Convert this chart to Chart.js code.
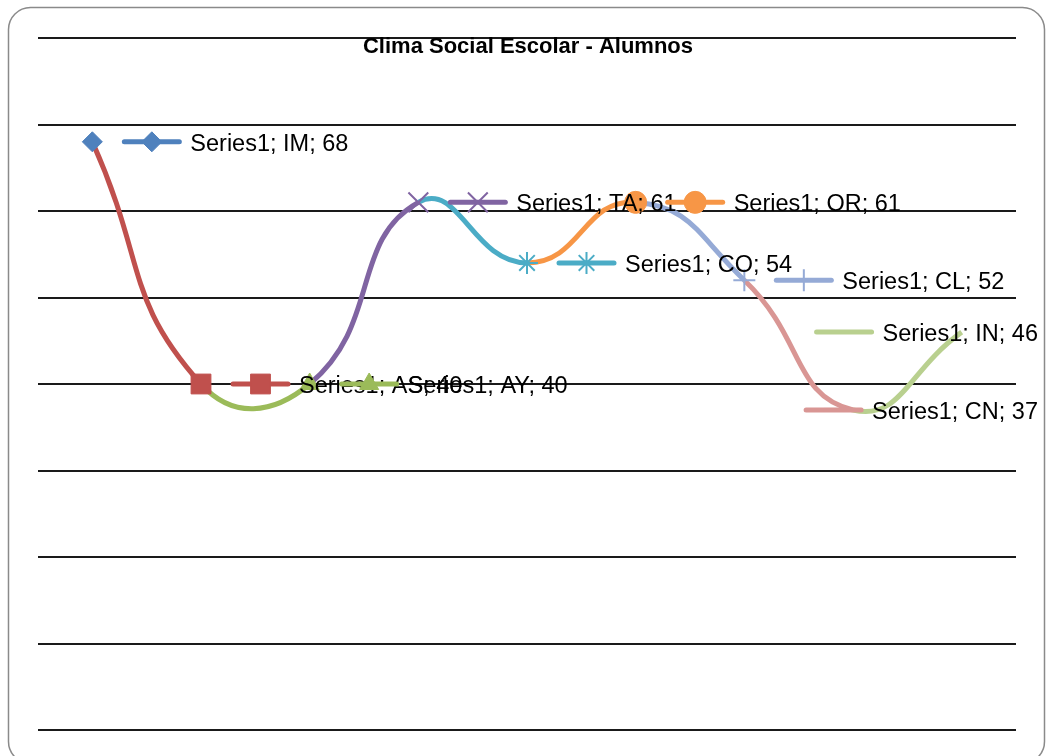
<!DOCTYPE html>
<html>
<head>
<meta charset="utf-8">
<script src="https://cdn.jsdelivr.net/npm/chart.js@4.4.1/dist/chart.umd.min.js"></script>
<style>
html,body{margin:0;padding:0;background:#fff;}
#wrap{width:1046px;height:756px;position:relative;}
</style>
</head>
<body>
<div id="wrap"><canvas id="c" width="1046" height="756"></canvas></div>
<script>
const chartTitle = 'Clima Social Escolar - Alumnos';
const seriesName = 'Series1';
const categories = ['IM','AS','AY','TA','CO','OR','CL','CN','IN'];
const values = [68, 40, 40, 61, 54, 61, 52, 37, 46];
const yTicks = [0, 10, 20, 30, 40, 50, 60, 70, 80];
const colors = ['#4F81BD','#C0504D','#9BBB59','#8064A2','#4BACC6','#F79646','#95AAD6','#D99694','#B9D08F'];
const markers = ['rectRot','rect','triangle','crossRot','star','circle','cross','line','none'];
const markerRadius = [10, 14, 11, 14, 11, 11, 11, 10, 0];
const markerStroke = [1, 1, 1, 2, 2, 1, 2, 4, 0];

const FONT = '"Liberation Sans", Arial, sans-serif';

const framePlugin = {
  id: 'frame',
  beforeDraw(chart) {
    const ctx = chart.ctx;
    ctx.save();
    ctx.fillStyle = '#fff';
    ctx.fillRect(0, 0, chart.width, chart.height);
    ctx.strokeStyle = '#8a8a8a';
    ctx.lineWidth = 1.5;
    ctx.beginPath();
    ctx.roundRect(8.5, 7.5, 1036, 756, 22);
    ctx.stroke();
    ctx.restore();
  },
  afterDraw(chart) {
    const ctx = chart.ctx;
    ctx.save();
    ctx.fillStyle = '#000';
    ctx.font = 'bold 22px ' + FONT;
    ctx.textAlign = 'center';
    ctx.textBaseline = 'alphabetic';
    ctx.fillText(chartTitle, 528, 53);
    ctx.restore();
  }
};

function drawMarker(ctx, i, x, y) {
  if (markers[i] === 'none' || markerRadius[i] === 0) return;
  ctx.fillStyle = colors[i];
  ctx.strokeStyle = colors[i];
  ctx.lineWidth = markerStroke[i];
  if (Chart.helpers && Chart.helpers.drawPoint) {
    Chart.helpers.drawPoint(ctx, {pointStyle: markers[i], radius: markerRadius[i], borderWidth: markerStroke[i], rotation: 0}, x, y);
  }
}

const labelPlugin = {
  id: 'ptlabels',
  afterDatasetsDraw(chart) {
    const ctx = chart.ctx;
    const meta = chart.getDatasetMeta(0);
    ctx.save();
    ctx.font = '23.5px ' + FONT;
    meta.data.forEach((pt, i) => {
      const txt = seriesName + '; ' + categories[i] + '; ' + values[i];
      const tw = ctx.measureText(txt).width;
      let start = pt.x + 32;
      if (start + 66 + tw > 1038) start = 1038 - 66 - tw;
      const y = pt.y;
      ctx.strokeStyle = colors[i];
      ctx.lineWidth = 5;
      ctx.lineCap = 'round';
      ctx.beginPath();
      ctx.moveTo(start, y);
      ctx.lineTo(start + 55, y);
      ctx.stroke();
      ctx.lineCap = 'butt';
      drawMarker(ctx, i, start + 27.5, y);
      ctx.fillStyle = '#000';
      ctx.textAlign = 'left';
      ctx.textBaseline = 'alphabetic';
      ctx.fillText(txt, start + 66, y + 9);
    });
    ctx.restore();
  }
};

new Chart(document.getElementById('c'), {
  type: 'line',
  data: {
    labels: categories,
    datasets: [{
      label: seriesName,
      data: values,
      borderWidth: 5,
      borderColor: colors[0],
      tension: 0.5,
      fill: false,
      segment: { borderColor: c => colors[c.p1DataIndex] },
      pointStyle: markers.map(m => m === 'none' ? false : m),
      pointRadius: markerRadius,
      pointHoverRadius: markerRadius,
      pointBorderWidth: markerStroke,
      pointBackgroundColor: colors,
      pointBorderColor: colors
    }]
  },
  options: {
    responsive: false,
    animation: false,
    events: [],
    layout: { padding: { left: 38, right: 30, top: 38, bottom: 26 } },
    plugins: { legend: { display: false }, title: { display: false }, tooltip: { enabled: false } },
    scales: {
      x: {
        type: 'category',
        offset: true,
        grid: { display: false, drawTicks: false },
        border: { display: false },
        ticks: { display: false }
      },
      y: {
        min: yTicks[0],
        max: yTicks[yTicks.length - 1],
        afterBuildTicks: s => { s.ticks = yTicks.map(v => ({ value: v })); },
        grid: { color: '#1a1a1a', lineWidth: 2, drawTicks: false },
        border: { display: false },
        ticks: { display: false }
      }
    }
  },
  plugins: [framePlugin, labelPlugin]
});
</script>
</body>
</html>
